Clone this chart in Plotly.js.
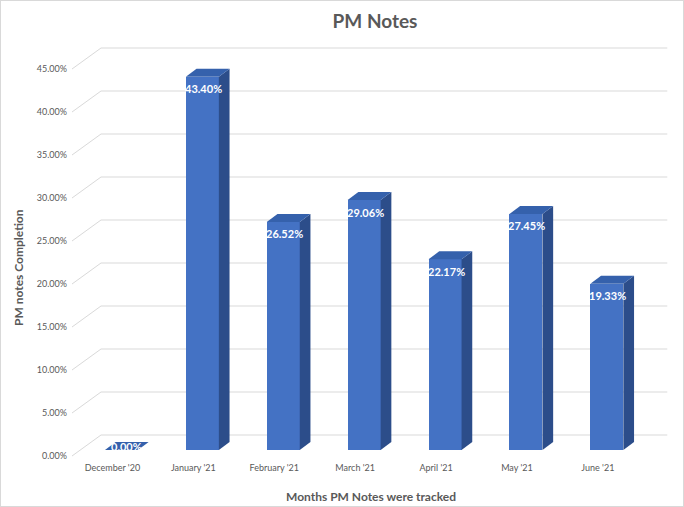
<!DOCTYPE html>
<html>
<head>
<meta charset="utf-8">
<script src="https://cdn.plot.ly/plotly-3.0.1.min.js"></script>
<style>
  html, body { margin: 0; padding: 0; background: #fff; }
  #wrap { position: relative; width: 684px; height: 507px; }
  #chart { width: 684px; height: 507px; }
  #frame { position: absolute; left: 0; top: 0; width: 684px; height: 507px; box-sizing: border-box;
           border: 1px solid #D9D9D9; pointer-events: none; }
</style>
</head>
<body>
<div id="wrap"><div id="chart"></div><div id="frame"></div></div>
<script>
// ---- data ----
const categories = ["December '20", "January '21", "February '21", "March '21", "April '21", "May '21", "June '21"];
const completion = [0, 43.40, 26.52, 29.06, 22.17, 27.45, 19.33];
const tickValues = [0, 5, 10, 15, 20, 25, 30, 35, 40, 45];
const tickLabels = tickValues.map(v => v.toFixed(2) + '%');

// ---- geometry (pixel scale of the pseudo-3D box) ----
const W = 684, H = 507;
const M = {l: 70, r: 4, t: 40, b: 50};
const PXX = 80.9;   // px per category
const PXY = 8.6;    // px per percent
const x0px = 81 - M.l;            // front plane left edge inside plot area
const xRange = [-0.5 - x0px / PXX, -0.5 + (W - M.l - M.r - x0px) / PXX];
const zeroPx = 450 - M.t;          // zero line of bars, from plot top
const plotH = H - M.t - M.b;
const yRange = [-(plotH - zeroPx) / PXY, zeroPx / PXY];

const BW = 0.408;                  // bar width
const DX = 10.7 / PXX, DY = 8 / PXY;     // bar depth
const BX = 20 / PXX, BY = 15 / PXY;      // back wall offset
const LX = -9 / PXX, LY = -6 / PXY;      // label plane offset

const FRONT = '#4472C4', SIDE = '#2C4D8A', TOP = '#3561AC';
const GRID = '#D9D9D9', TXT = '#595959';
const FONT = 'Lato, "Open Sans", sans-serif';

const idx = categories.map((c, i) => i);
const traces = [];

// back wall gridlines + diagonals (base subplot, drawn below bars)
const gx = [], gy = [];
tickValues.forEach(v => {
  gx.push(-0.5 + LX, -0.5 + BX, categories.length - 0.5 + BX, null);
  gy.push(v + LY, v + BY, v + BY, null);
});
traces.push({type: 'scatter', mode: 'lines', x: gx, y: gy, xaxis: 'x', yaxis: 'y',
  line: {color: GRID, width: 1}, hoverinfo: 'skip', showlegend: false});

// front faces
traces.push({type: 'bar', x: idx, y: completion, width: BW, xaxis: 'x2', yaxis: 'y2',
  marker: {color: FRONT, line: {width: 0}}, showlegend: false, hoverinfo: 'skip'});

// side and top faces
completion.forEach((v, i) => {
  const xl = i - BW / 2, xr = i + BW / 2;
  if (v > 0) {
    traces.push({type: 'scatter', mode: 'lines', fill: 'toself', fillcolor: SIDE,
      x: [xr, xr + DX, xr + DX, xr, xr], y: [0, DY, v + DY, v, 0],
      xaxis: 'x2', yaxis: 'y2', line: {width: 0, color: SIDE}, hoverinfo: 'skip', showlegend: false});
  }
  traces.push({type: 'scatter', mode: 'lines', fill: 'toself', fillcolor: TOP,
    x: [xl, xr, xr + DX, xl + DX, xl], y: [v, v, v + DY, v + DY, v],
    xaxis: 'x2', yaxis: 'y2', line: {width: 0, color: TOP}, hoverinfo: 'skip', showlegend: false});
});

// placeholder trace so the label axes get a subplot
traces.push({type: 'scatter', mode: 'markers', x: [], y: [], xaxis: 'x3', yaxis: 'y3', showlegend: false, hoverinfo: 'skip'});

const annotations = completion.map((v, i) => ({
  x: i, y: v, xref: 'x2', yref: 'y2', text: '<b>' + v.toFixed(2) + '%</b>', showarrow: false,
  yshift: v > 0 ? -12 : 4, xshift: v > 0 ? 1 : DX * PXX / 2,
  font: {family: FONT, size: 11, color: '#FFFFFF'}
}));
annotations.push({xref: 'paper', yref: 'paper', x: (371 - M.l) / (W - M.l - M.r), y: -(496 - (H - M.b)) / plotH,
  text: '<b>Months PM Notes were tracked</b>', showarrow: false, xanchor: 'center', yanchor: 'middle',
  font: {family: FONT, size: 12, color: TXT}});
annotations.push({xref: 'paper', yref: 'paper', x: -(M.l - 18) / (W - M.l - M.r), y: (H - M.b - 268) / plotH,
  text: '<b>PM notes Completion</b>', showarrow: false, textangle: -90, xanchor: 'center', yanchor: 'middle',
  font: {family: FONT, size: 12, color: TXT}});

const hidden = {showgrid: false, zeroline: false, showline: false, showticklabels: false, ticks: ''};

const layout = {
  width: W, height: H,
  margin: M,
  paper_bgcolor: '#FFFFFF', plot_bgcolor: 'rgba(0,0,0,0)',
  showlegend: false,
  title: {text: '<b>PM Notes</b>', x: 0.5, xref: 'paper', y: 1 - 21 / H, yref: 'container',
    xanchor: 'center', yanchor: 'middle', font: {family: FONT, size: 19, color: TXT}},
  xaxis: Object.assign({range: xRange, fixedrange: true}, hidden),
  yaxis: Object.assign({range: yRange, fixedrange: true}, hidden),
  xaxis2: Object.assign({range: xRange, overlaying: 'x', anchor: 'y2'}, hidden),
  yaxis2: Object.assign({range: yRange, overlaying: 'y', anchor: 'x2'}, hidden),
  xaxis3: {range: [xRange[0] - LX, xRange[1] - LX], overlaying: 'x', anchor: 'y3', side: 'bottom',
    showgrid: false, zeroline: false, showline: false, ticks: '',
    tickmode: 'array', tickvals: idx, ticktext: categories, ticklabelstandoff: 4,
    tickfont: {family: FONT, size: 9, color: TXT}},
  yaxis3: {range: [yRange[0] - LY, yRange[1] - LY], overlaying: 'y', anchor: 'x3', side: 'left',
    showgrid: false, zeroline: false, showline: false, ticks: '',
    tickmode: 'array', tickvals: tickValues, ticktext: tickLabels, ticklabelstandoff: 2,
    tickfont: {family: FONT, size: 9, color: TXT}},
  annotations: annotations,
  bargap: 0
};

Plotly.newPlot('chart', traces, layout, {displayModeBar: false, staticPlot: true});
</script>
</body>
</html>
